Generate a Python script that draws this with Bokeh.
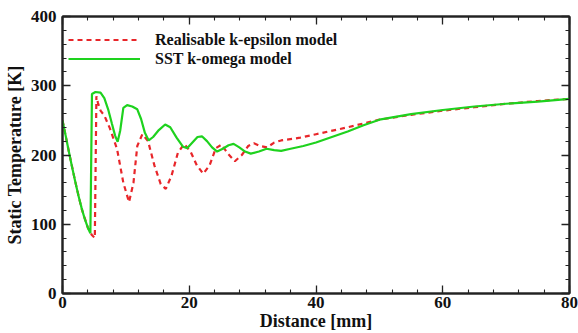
from bokeh.plotting import figure
from bokeh.models import LinearAxis, Legend, LegendItem, FixedTicker, Range1d
from bokeh.embed import file_html
from bokeh.resources import INLINE

# Realisable k-epsilon model
ke_x = [0, 1, 2, 3, 4, 4.6, 5.1, 5.35, 5.6, 6.0, 6.6, 7.5, 8.6, 9.6, 10.5, 11.2, 11.8, 12.6,
        13.5, 14.5, 15.5, 16.3, 17.2, 18.2, 19.2, 20.2, 21.2, 22.2, 23.2, 24.2, 25.1, 26.1,
        27.2, 28.3, 29.3, 30.2, 31.2, 32.3, 33.4, 34.5, 37.5, 40, 45, 50, 55, 60, 65, 70, 75, 80]
ke_y = [250, 205, 162, 123, 95, 85, 80, 285, 275, 264, 257, 238, 209, 160, 132, 160, 213, 230,
        220, 185, 158, 151, 170, 203, 216, 205, 185, 173, 185, 210, 215, 202,
        191, 200, 213, 217, 213, 211, 218, 221, 225, 230, 240, 251, 258, 264, 269, 274, 278, 281]

# SST k-omega model
sst_x = [0, 0.5, 1, 1.5, 2, 2.5, 3, 3.5, 4, 4.4, 4.65, 5.2, 6.0, 6.6, 7.2, 7.8, 8.3, 8.7, 9.1,
         9.6, 10.2, 11.0, 11.8, 12.4, 13.0, 13.6, 14.3, 15.2, 16.2, 17.0, 18.0, 19.0, 19.7,
         20.5, 21.3, 22.0, 22.8, 23.6, 24.4, 25.3, 26.2, 27.0, 27.9, 28.8, 29.7, 31.0, 32.2,
         33.4, 34.5, 36, 38, 40, 42.5, 45, 47.5, 50, 55, 60, 65, 70, 75, 80]
sst_y = [250, 228, 205, 183, 162, 142, 124, 108, 95, 87, 288, 291, 290, 282, 266, 245, 228, 219, 235,
         268, 272, 270, 266, 252, 232, 221, 226, 236, 244, 240, 225, 212, 210,
         218, 226, 227, 220, 211, 205, 209, 214, 216, 211, 205, 202, 205, 209,
         207, 206, 209, 213, 218, 226, 234, 243, 251, 259, 265, 270, 274, 277, 281]

x_ticks = [0, 20, 40, 60, 80]
y_ticks = [0, 100, 200, 300, 400]
x_minor = [v for v in range(0, 81, 4)]
y_minor = [v for v in range(0, 401, 20)]

FONT = "Liberation Serif"

p = figure(width=578, height=333, output_backend="svg", toolbar_location=None,
           x_range=Range1d(0, 80), y_range=Range1d(0, 400),
           min_border_left=62, min_border_right=9, min_border_top=16, min_border_bottom=40)
p.grid.visible = False
p.outline_line_color = "#333333"
p.outline_line_width = 2
p.background_fill_color = "white"
p.border_fill_color = "white"

r1 = p.line(ke_x, ke_y, line_color="#e8262a", line_width=2.2, line_dash="5 4")
r2 = p.line(sst_x, sst_y, line_color="#1ed21e", line_width=2.2)

def style_axis(ax, ticks, minor, labels=True):
    ax.ticker = FixedTicker(ticks=ticks, minor_ticks=minor)
    ax.axis_line_color = "#222222"
    ax.axis_line_width = 2
    ax.major_tick_in = 8
    ax.major_tick_out = 0
    ax.minor_tick_in = 4
    ax.minor_tick_out = 0
    ax.major_tick_line_color = "#222222"
    ax.minor_tick_line_color = "#222222"
    ax.major_tick_line_width = 1.3
    ax.minor_tick_line_width = 1.1
    if labels:
        ax.major_label_text_font = FONT
        ax.major_label_text_font_style = "bold"
        ax.major_label_text_font_size = "17px"
        ax.major_label_text_color = "#111111"
        ax.axis_label_text_font = FONT
        ax.axis_label_text_font_style = "bold"
        ax.axis_label_text_font_size = "18px"
        ax.axis_label_text_color = "#111111"
    else:
        ax.major_label_text_font_size = "0px"
        ax.major_label_text_color = None

style_axis(p.xaxis[0], x_ticks, x_minor)
style_axis(p.yaxis[0], y_ticks, y_minor)
p.xaxis[0].axis_label = "Distance [mm]"
p.yaxis[0].axis_label = "Static Temperature [K]"
p.xaxis[0].major_label_standoff = 3
p.xaxis[0].axis_label_standoff = 0
p.yaxis[0].major_label_standoff = 6
p.yaxis[0].axis_label_standoff = 3

top = LinearAxis()
right = LinearAxis()
style_axis(top, x_ticks, x_minor, labels=False)
style_axis(right, y_ticks, y_minor, labels=False)
p.add_layout(top, "above")
p.add_layout(right, "right")

legend = Legend(items=[LegendItem(label="Realisable k-epsilon model", renderers=[r1]),
                       LegendItem(label="SST k-omega model", renderers=[r2])],
                location=(6, 225), orientation="vertical")
legend.border_line_color = None
legend.background_fill_alpha = 0
legend.padding = 0
legend.margin = 0
legend.spacing = 0
legend.glyph_width = 72
legend.glyph_height = 19
legend.label_height = 19
legend.label_standoff = 15
legend.label_text_font = FONT
legend.label_text_font_style = "bold"
legend.label_text_font_size = "16px"
legend.label_text_color = "#111111"
p.add_layout(legend)

open("out.html", "w").write(file_html(p, INLINE))
